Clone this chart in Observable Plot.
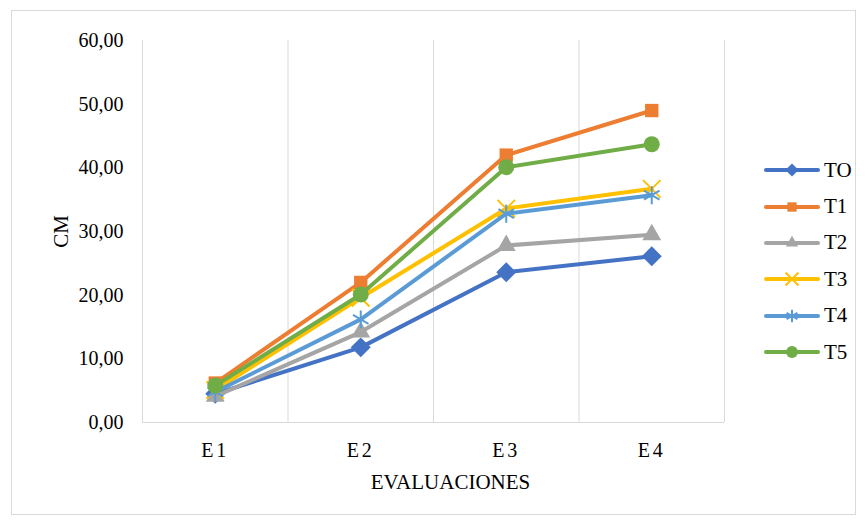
<!DOCTYPE html>
<html><head><meta charset="utf-8">
<script src="https://cdn.jsdelivr.net/npm/d3@7"></script>
<script src="https://cdn.jsdelivr.net/npm/@observablehq/plot@0.6"></script>
<style>
body{margin:0;background:#fff;}
#wrap{position:relative;width:866px;height:520px;font-family:"Liberation Serif","Times New Roman",serif;background:#fff;}
#frame{position:absolute;left:11px;top:10px;width:845px;height:505px;border:1px solid #d9d9d9;box-sizing:border-box;}
#chart{position:absolute;left:0;top:0;}
#chart svg text{font-family:"Liberation Serif","Times New Roman",serif !important;}
#chart [aria-label='x-axis tick label'] text{letter-spacing:3px;}
#legend{position:absolute;left:763px;top:152px;}
.item{display:flex;align-items:center;height:36.4px;font-size:21px;color:#000;}
.item svg{margin-right:3px;}
</style></head><body>
<div id="wrap"><div id="frame"></div><div id="chart"></div><div id="legend"></div></div>
<script>
const evaluaciones = ["E1", "E2", "E3", "E4"];
const seriesNames = ["TO", "T1", "T2", "T3", "T4", "T5"];
const seriesColors = ["#4472C4", "#ED7D31", "#A5A5A5", "#FFC000", "#5B9BD5", "#70AD47"];
const seriesSymbols = ["diamond2", "square2", "triangle2", "times", "asterisk", "circle"];
const yTicks = [0, 10, 20, 30, 40, 50, 60];

const TO = [4.5, 11.8, 23.6, 26.1];
const T1 = [6.2, 22.0, 42.0, 49.0];
const T2 = [4.1, 14.2, 27.8, 29.5];
const T3 = [5.1, 19.6, 33.6, 36.7];
const T4 = [4.8, 16.2, 32.8, 35.7];
const T5 = [5.8, 20.1, 40.1, 43.7];
const seriesValues = [TO, T1, T2, T3, T4, T5];

const rows = seriesNames.flatMap((s, si) =>
  evaluaciones.map((e, i) => ({serie: s, idx: i + 1, value: seriesValues[si][i]})));

const strokeSymbols = new Set(["times", "asterisk"]);
const symbolR = {diamond2: 9, square2: 8.5, triangle2: 9, times: 8, asterisk: 8.5, circle: 8};

const marks = [
  Plot.ruleX(evaluaciones.map((_, i) => i + 0.5).concat([evaluaciones.length + 0.5]), {stroke: "#d9d9d9", strokeWidth: 1}),
  Plot.ruleY([0], {stroke: "#d9d9d9", strokeWidth: 1}),
  Plot.axisY({ticks: yTicks, tickSize: 0, tickPadding: 19, tickFormat: d => d.toFixed(2).replace(".", ","),
    label: "CM", labelAnchor: "center", labelArrow: "none", labelOffset: 89, fontSize: 20}),
  Plot.axisX({ticks: evaluaciones.map((_, i) => i + 1), tickSize: 0, tickPadding: 20,
    tickFormat: i => evaluaciones[i - 1], label: null, fontSize: 20}),
  Plot.text(["EVALUACIONES"], {frameAnchor: "bottom", text: d => d, dy: 66, dx: 17, fontSize: 21})
];
seriesNames.forEach((s, si) => {
  const data = rows.filter(d => d.serie === s);
  const sym = seriesSymbols[si];
  marks.push(Plot.line(data, {x: "idx", y: "value", stroke: seriesColors[si], strokeWidth: 4, strokeLinejoin: "round", strokeLinecap: "round"}));
  if (strokeSymbols.has(sym)) {
    marks.push(Plot.dot(data, {x: "idx", y: "value", symbol: () => sym, r: symbolR[sym], stroke: seriesColors[si], strokeWidth: 2, fill: "none"}));
  } else {
    marks.push(Plot.dot(data, {x: "idx", y: "value", symbol: () => sym, r: symbolR[sym], fill: seriesColors[si], stroke: "none"}));
  }
});

const chart = Plot.plot({
  width: 740, height: 520,
  marginLeft: 142, marginRight: 16, marginTop: 40, marginBottom: 98,
  style: {fontFamily: "'Liberation Serif','Times New Roman',serif", fontSize: "20px", color: "#000", background: "transparent", overflow: "visible"},
  x: {domain: [0.5, evaluaciones.length + 0.5]},
  y: {domain: [0, 60]},
  symbol: {type: "identity"},
  marks
});
document.getElementById("chart").appendChild(chart);
d3.select(chart).selectAll("[aria-label='y-axis label'] text").style("font-size", "21px");

const legend = d3.select("#legend");
const symMap = {diamond2: d3.symbolDiamond2, square2: d3.symbolSquare2, triangle2: d3.symbolTriangle2,
  times: d3.symbolTimes, asterisk: d3.symbolAsterisk, circle: d3.symbolCircle};
seriesNames.forEach((s, si) => {
  const item = legend.append("div").attr("class", "item");
  const svg = item.append("svg").attr("width", 58).attr("height", 20);
  svg.append("line").attr("x1", 3).attr("x2", 55).attr("y1", 10).attr("y2", 10)
    .attr("stroke", seriesColors[si]).attr("stroke-width", 4).attr("stroke-linecap", "round");
  const sym = seriesSymbols[si];
  const p = svg.append("path").attr("transform", "translate(29,10)")
    .attr("d", d3.symbol(symMap[sym], 110)());
  if (strokeSymbols.has(sym)) p.attr("fill", "none").attr("stroke", seriesColors[si]).attr("stroke-width", 2);
  else p.attr("fill", seriesColors[si]);
  item.append("span").text(s);
});
</script>
</body></html>
